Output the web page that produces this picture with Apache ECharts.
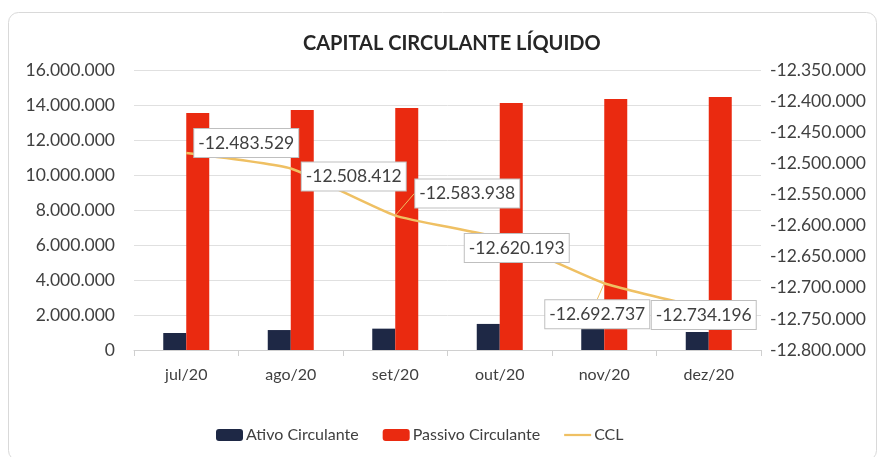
<!DOCTYPE html>
<html><head><meta charset="utf-8">
<script src="https://cdn.jsdelivr.net/npm/echarts@6/dist/echarts.min.js"></script>
<style>html,body{margin:0;padding:0;background:#fff}#c{width:882px;height:457px}</style>
</head><body><div id="c"></div>
<script>
const categories = ['jul/20','ago/20','set/20','out/20','nov/20','dez/20'];
const ativo = [970000, 1140000, 1220000, 1490000, 1220000, 1030000];
const passivo = [13540000, 13710000, 13830000, 14110000, 14340000, 14460000];
const ccl = [-12483529, -12508412, -12583938, -12620193, -12692737, -12734196];
const labelOffsets = [[60,-10],[63,8],[72,-22],[17,10],[-7,31],[-5,6]];
const leaderLines = [false,false,true,false,true,false];

const fmt = v => {
  const s = Math.abs(Math.round(v)).toString().replace(/\B(?=(\d{3})+(?!\d))/g, '.');
  return (v < 0 ? '-' : '') + s;
};
const FONT = 'Lato';
const LINE = '#EFC063';
const chart = echarts.init(document.getElementById('c'));
chart.setOption({
  animation: false,
  backgroundColor: '#fff',
  textStyle: {fontFamily: FONT},
  graphic: [{type:'rect', shape:{x:8.5,y:12.5,width:868,height:448,r:10}, style:{fill:'none',stroke:'#d9d9d9',lineWidth:1}, z:-1}],
  title: {text:'CAPITAL CIRCULANTE LÍQUIDO', left:298, top:29, textStyle:{fontFamily:FONT, fontSize:20, fontWeight:'bold', color:'#262626'}},
  grid: {left:134, right:121, top:70, bottom:107},
  legend: {bottom:9, left:211, itemWidth:27, itemHeight:12, itemGap:24, textStyle:{fontFamily:FONT, fontSize:16, color:'#404040', padding:[0,0,0,-2]},
    data:[{name:'Ativo Circulante'},{name:'Passivo Circulante'},
      {name:'CCL', icon:'path://M0,0H30V2.5H0Z', itemStyle:{color:LINE, opacity:1}}]},
  xAxis: {type:'category', data:categories,
    axisLine:{lineStyle:{color:'#d0d0d0'}}, axisTick:{show:true, length:6, lineStyle:{color:'#d0d0d0'}},
    axisLabel:{fontFamily:FONT, fontSize:16, color:'#404040', margin:17}},
  yAxis: [
    {type:'value', min:0, max:16000000, interval:2000000, axisLine:{show:false}, axisTick:{show:false},
      splitLine:{lineStyle:{color:'#e0e0e0'}},
      axisLabel:{fontFamily:FONT, fontSize:17.5, color:'#404040', margin:19, formatter:fmt}},
    {type:'value', min:-12800000, max:-12350000, interval:50000, axisLine:{show:false}, axisTick:{show:false},
      splitLine:{show:false},
      axisLabel:{fontFamily:FONT, fontSize:17.5, color:'#404040', margin:9, formatter:fmt}}
  ],
  series: [
    {name:'Ativo Circulante', type:'bar', data:ativo, barWidth:23, barGap:'0%', itemStyle:{color:'#1E2845'}},
    {name:'Passivo Circulante', type:'bar', data:passivo, barWidth:23, barGap:'0%', itemStyle:{color:'#EA2A10'}},
    {name:'CCL', type:'line', yAxisIndex:1, smooth:0.15, symbol:'circle', symbolSize:0.1, showSymbol:true, z:5,
      itemStyle:{color:LINE},
      lineStyle:{color:LINE, width:2.5},
      data: ccl.map((v,i)=>({value:v, labelLine:{show:leaderLines[i]}})),
      labelLine:{show:false, lineStyle:{color:LINE, width:1}},
      labelLayout: p => ({dx: labelOffsets[p.dataIndex][0], dy: labelOffsets[p.dataIndex][1]}),
      label:{show:true, position:'inside', formatter:p=>fmt(p.value), fontFamily:FONT, fontSize:17.5, color:'#404040',
        backgroundColor:'#fff', borderColor:'#bfbfbf', borderWidth:1, padding:[6,4,4,4]}}
  ]
});
</script></body></html>
